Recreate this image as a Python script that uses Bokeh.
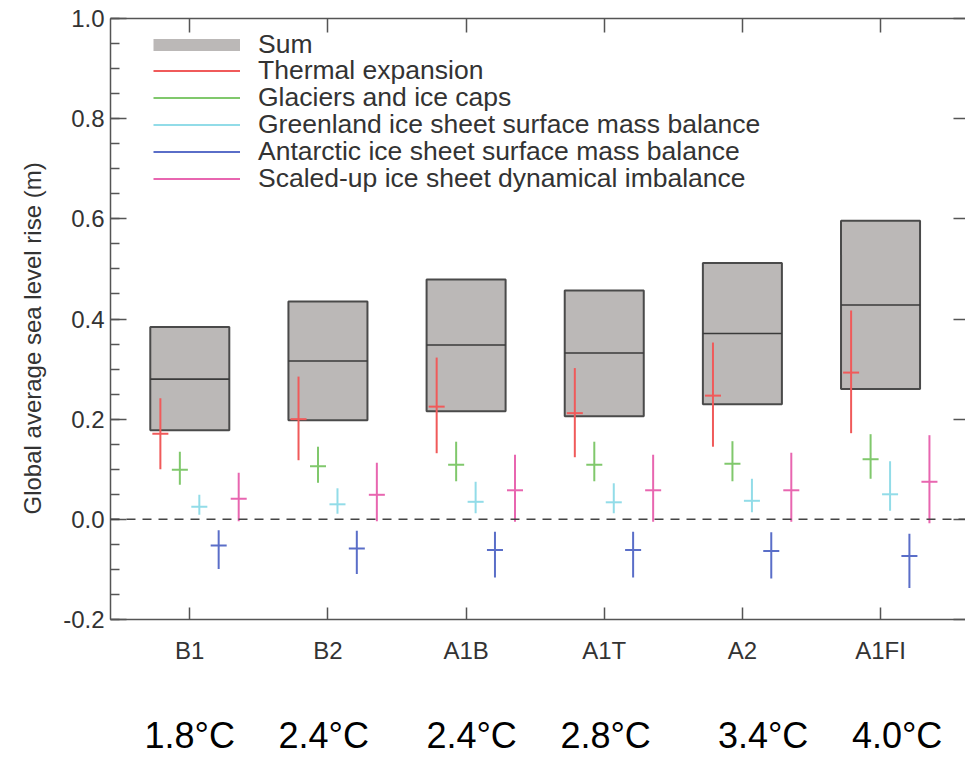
from bokeh.plotting import figure
from bokeh.models import (Range1d, LinearAxis, FixedTicker, SingleIntervalTicker,
                          PrintfTickFormatter, Span, Legend, LegendItem, ColumnDataSource,
                          CustomLabelingPolicy, Title)
from bokeh.embed import file_html
from bokeh.resources import INLINE

# ---------------- data ----------------
scenarios = ["B1", "B2", "A1B", "A1T", "A2", "A1FI"]
temperatures = ["1.8°C", "2.4°C", "2.4°C", "2.8°C", "3.4°C", "4.0°C"]

sum_low = [0.178, 0.198, 0.216, 0.206, 0.230, 0.260]
sum_mid = [0.280, 0.316, 0.348, 0.332, 0.371, 0.428]
sum_high = [0.384, 0.435, 0.479, 0.457, 0.512, 0.596]

thermal_low = [0.100, 0.118, 0.132, 0.124, 0.145, 0.172]
thermal_mid = [0.171, 0.200, 0.225, 0.212, 0.247, 0.293]
thermal_high = [0.242, 0.285, 0.323, 0.302, 0.353, 0.417]

glaciers_low = [0.069, 0.073, 0.076, 0.076, 0.076, 0.081]
glaciers_mid = [0.099, 0.106, 0.109, 0.109, 0.111, 0.120]
glaciers_high = [0.135, 0.145, 0.155, 0.155, 0.156, 0.170]

greenland_low = [0.009, 0.011, 0.012, 0.012, 0.014, 0.017]
greenland_mid = [0.025, 0.030, 0.035, 0.034, 0.037, 0.050]
greenland_high = [0.049, 0.062, 0.075, 0.072, 0.081, 0.116]

antarctic_low = [-0.099, -0.109, -0.116, -0.116, -0.118, -0.137]
antarctic_mid = [-0.052, -0.058, -0.061, -0.061, -0.063, -0.073]
antarctic_high = [-0.022, -0.023, -0.025, -0.025, -0.026, -0.029]

dynamic_low = [-0.004, -0.004, -0.005, -0.005, -0.005, -0.008]
dynamic_mid = [0.041, 0.049, 0.058, 0.058, 0.058, 0.075]
dynamic_high = [0.093, 0.113, 0.129, 0.129, 0.133, 0.168]

components = [
    ("Thermal expansion", thermal_low, thermal_mid, thermal_high, "#f05a5a"),
    ("Glaciers and ice caps", glaciers_low, glaciers_mid, glaciers_high, "#80c86c"),
    ("Greenland ice sheet surface mass balance", greenland_low, greenland_mid, greenland_high, "#92dce8"),
    ("Antarctic ice sheet surface mass balance", antarctic_low, antarctic_mid, antarctic_high, "#5a6ec8"),
    ("Scaled-up ice sheet dynamical imbalance", dynamic_low, dynamic_mid, dynamic_high, "#e866b0"),
]

# ---------------- layout constants ----------------
FONT = "Liberation Sans"
BOX_HALF = 0.286
CROSS_HALF = 0.058
OFFSETS = [-0.213, -0.072, 0.069, 0.209, 0.354]
TEMP_NUDGE = [0.0, -0.03, 0.04, 0.01, 0.15, 0.12]
LEGEND_ROW_Y = [559.5, 533.5, 506.5, 479.5, 452.5, 425.5]   # screen offsets of legend rows
BOX_FILL = "#bbb8b7"
AXIS_COL = "#555555"

xs = [i + 1 for i in range(len(scenarios))]
no_labels = CustomLabelingPolicy(code="return []")

p = figure(width=965, height=758, output_backend="svg", toolbar_location=None,
           x_range=Range1d(0.426, 6.615), y_range=Range1d(-0.2, 1.0),
           min_border_left=110, min_border_right=0, min_border_top=18, min_border_bottom=0,
           x_axis_location=None, y_axis_location=None)
p.xgrid.visible = False
p.ygrid.visible = False
p.outline_line_color = None
p.background_fill_color = "white"
p.border_fill_color = "white"

# ---------------- axes ----------------
cat_overrides = {x: s for x, s in zip(xs, scenarios)}
temp_ticks = [round(x + n, 2) for x, n in zip(xs, TEMP_NUDGE)]
temp_overrides = {t: s for t, s in zip(temp_ticks, temperatures)}

left = LinearAxis(ticker=SingleIntervalTicker(interval=0.2, num_minor_ticks=4),
                  formatter=PrintfTickFormatter(format="%.1f"))
left.axis_line_color = AXIS_COL
left.axis_line_width = 1.5
left.major_tick_line_color = AXIS_COL
left.major_tick_line_width = 1.5
left.minor_tick_line_color = AXIS_COL
left.minor_tick_line_width = 1.5
left.major_tick_in = 16
left.major_tick_out = 0
left.minor_tick_in = 9
left.minor_tick_out = 0
left.major_label_standoff = 6
left.major_label_text_font = FONT
left.major_label_text_font_size = "24px"
left.major_label_text_color = "#333333"
p.add_layout(left, "left")

ytitle = Title(text="Global average sea level rise (m)", align="left", offset=105,
               text_font=FONT, text_font_size="24px", text_font_style="normal",
               text_color="#333333", standoff=30)
p.add_layout(ytitle, "left")

right = LinearAxis(ticker=SingleIntervalTicker(interval=0.2, num_minor_ticks=0),
                   major_label_policy=no_labels)
right.axis_line_alpha = 0
right.major_tick_line_color = AXIS_COL
right.major_tick_line_width = 1.5
right.major_tick_in = 12
right.major_tick_out = 0
right.minor_tick_in = 0
right.minor_tick_out = 0
right.major_label_text_font_size = "0px"
right.major_label_standoff = 0
p.add_layout(right, "right")

bottom = LinearAxis(ticker=FixedTicker(ticks=xs), major_label_overrides=cat_overrides)
bottom.axis_line_color = AXIS_COL
bottom.axis_line_width = 1.5
bottom.major_tick_line_color = AXIS_COL
bottom.major_tick_line_width = 1.5
bottom.major_tick_in = 12
bottom.major_tick_out = 0
bottom.minor_tick_in = 0
bottom.minor_tick_out = 0
bottom.major_label_standoff = 17
bottom.major_label_text_font = FONT
bottom.major_label_text_font_size = "24px"
bottom.major_label_text_color = "#333333"
p.add_layout(bottom, "below")

temps = LinearAxis(ticker=FixedTicker(ticks=temp_ticks), major_label_overrides=temp_overrides)
temps.axis_line_alpha = 0
temps.major_tick_line_alpha = 0
temps.major_tick_in = 0
temps.major_tick_out = 0
temps.minor_tick_in = 0
temps.minor_tick_out = 0
temps.major_label_standoff = 48
temps.major_label_text_font = FONT
temps.major_label_text_font_size = "36px"
temps.major_label_text_color = "#000000"
p.add_layout(temps, "below")

top = LinearAxis(ticker=FixedTicker(ticks=xs), major_label_policy=no_labels)
top.axis_line_color = AXIS_COL
top.axis_line_width = 1.5
top.major_tick_line_color = AXIS_COL
top.major_tick_line_width = 1.5
top.major_tick_in = 14
top.major_tick_out = 0
top.minor_tick_in = 0
top.minor_tick_out = 0
top.major_label_text_font_size = "0px"
top.major_label_standoff = 0
p.add_layout(top, "above")

# ---------------- glyphs ----------------
box_src = ColumnDataSource(dict(
    left=[x - BOX_HALF for x in xs], right=[x + BOX_HALF for x in xs],
    bottom=sum_low, top=sum_high, mid=sum_mid))
p.quad(left="left", right="right", bottom="bottom", top="top", source=box_src,
       fill_color=BOX_FILL, line_color="#4a4a4a", line_width=2)
p.segment(x0="left", x1="right", y0="mid", y1="mid", source=box_src,
          line_color="#3a3a3a", line_width=1.6)

zero = Span(location=0, dimension="width", line_color="#444444", line_width=1.5,
            line_dash="9 7")
p.add_layout(zero)

sum_legend = p.line(x=[float("nan")], y=[float("nan")], line_color=BOX_FILL, line_width=12)
items = [LegendItem(label="Sum", renderers=[sum_legend])]

for (name, lo, mid, hi, col), off in zip(components, OFFSETS):
    cx = [x + off for x in xs]
    src = ColumnDataSource(dict(
        x=cx, lo=lo, hi=hi, mid=mid,
        x0=[c - CROSS_HALF for c in cx], x1=[c + CROSS_HALF for c in cx]))
    v = p.segment(x0="x", x1="x", y0="lo", y1="hi", source=src,
                  line_color=col, line_width=2)
    p.segment(x0="x0", x1="x1", y0="mid", y1="mid", source=src,
              line_color=col, line_width=2)
    items.append(LegendItem(label=name, renderers=[v]))

# one legend block per row so that rows keep the reference's tight pitch
for item, ly in zip(items, LEGEND_ROW_Y):
    lg = Legend(items=[item], location=(43, ly))
    lg.label_text_font = FONT
    lg.label_text_font_size = "26.5px"
    lg.label_text_color = "#333333"
    lg.glyph_width = 87
    lg.glyph_height = 27
    lg.label_height = 27
    lg.spacing = 0
    lg.padding = 0
    lg.margin = 0
    lg.label_standoff = 18
    lg.border_line_alpha = 0
    lg.background_fill_alpha = 0
    p.add_layout(lg, "center")

open("out.html", "w").write(file_html(p, INLINE))
